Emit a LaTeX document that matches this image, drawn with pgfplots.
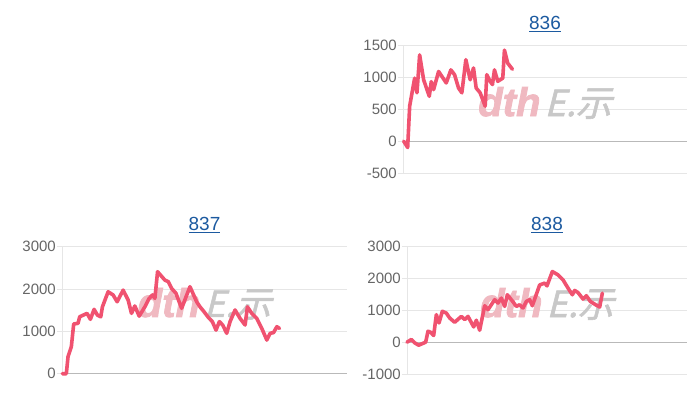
\documentclass[border=0pt]{standalone}
\usepackage{pgfplots}
\pgfplotsset{compat=1.18}
\usepackage{fontspec}
\setmainfont{Liberation Sans}
\newfontfamily\cjk[FakeSlant=0.25,FakeBold=1.5]{Noto Sans CJK JP}
\newfontfamily\wmfont[FakeBold=2]{Liberation Sans}
\definecolor{linec}{RGB}{240,82,112}
\definecolor{gridc}{RGB}{230,230,230}
\definecolor{zeroc}{RGB}{185,185,185}
\definecolor{tickc}{RGB}{102,102,102}
\definecolor{titlec}{RGB}{28,90,160}
\definecolor{wmpink}{RGB}{240,185,193}
\definecolor{wmgray}{RGB}{200,200,200}
\pgfplotsset{
  small/.style={
    scale only axis,
    axis x line=none,
    axis y line=left,
    y axis line style={gridc, line width=1pt, -},
    xtick=\empty,
    ymajorgrids,
    major grid style={gridc, line width=1pt},
    tick align=outside,
    major tick length=5pt,
    ytick style={gridc, line width=1pt},
    yticklabel style={font=\fontsize{15}{17}\selectfont, color=tickc, inner sep=1pt},
    /pgf/number format/assume math mode=true,
    /pgf/number format/1000 sep={},
    extra y ticks={0},
    extra y tick labels={},
    extra y tick style={major grid style={zeroc, line width=1pt}, tick style={zeroc, line width=1pt}},
    clip=false,
  },
  dataline/.style={linec, line width=3.6pt, line join=round, line cap=round},
}
\newcommand{\wm}{%
  \node[anchor=center] at (rel axis cs:0.5,0.55) {%
    \fontsize{40}{40}\selectfont\textcolor{wmpink}{\wmfont\bfseries\itshape dth}\hspace{4pt}\textcolor{wmgray}{\fontsize{36}{36}\selectfont\cjk E.示}};}
\newcommand{\ttl}[1]{%
  \node[anchor=base, text=titlec, inner sep=0pt] at (rel axis cs:0.5,1) [yshift=16pt] {\fontsize{19}{20}\selectfont\underline{#1}};}
\begin{document}
\begin{tikzpicture}[x=1pt,y=1pt]
\fill[white] (0,0) rectangle (700,400);
% 836
\begin{axis}[small, at={(403pt,227pt)}, anchor=south west, width=284pt, height=127.3pt,
  xmin=158, xmax=1012, ymin=-500, ymax=1500, ytick={-500,0,500,1000,1500}]
\wm
\addplot[dataline] coordinates {(160,0)(172,-100)(178,550)(193,990)(200,760)(208,1355)(220,965)(237,705)(243,935)(250,810)(265,1095)(288,915)(302,1120)(313,1045)(325,835)(335,760)(347,1280)(360,965)(370,1150)(378,835)(390,760)(405,550)(410,1045)(420,940)(427,890)(433,1120)(443,940)(458,990)(463,1430)(473,1225)(487,1130)};
\ttl{836}
\end{axis}
% 837
\begin{axis}[small, at={(62pt,26.3pt)}, anchor=south west, width=285pt, height=127pt,
  xmin=187, xmax=1040, ymin=0, ymax=3000, ytick={0,1000,2000,3000}]
\wm
\addplot[dataline] coordinates {(188,0)(200,0)(205,400)(215,640)(222,1175)(235,1190)(240,1345)(262,1425)(272,1285)(283,1520)(293,1385)(303,1345)(308,1580)(325,1935)(340,1860)(352,1700)(370,1975)(385,1740)(395,1425)(405,1600)(418,1360)(435,1580)(448,1780)(458,1860)(465,1780)(473,2410)(495,2210)(505,2175)(515,2015)(528,1900)(545,1545)(570,2055)(590,1700)(600,1580)(612,1465)(625,1330)(637,1230)(648,1030)(658,1230)(668,1150)(680,955)(690,1230)(705,1505)(720,1305)(735,1150)(742,1580)(755,1425)(770,1305)(785,1070)(800,795)(810,955)(820,970)(830,1110)(838,1070)};
\ttl{837}
\end{axis}
% 838
\begin{axis}[small, at={(407pt,26pt)}, anchor=south west, width=280pt, height=127.3pt,
  xmin=172, xmax=1012, ymin=-1000, ymax=3000, ytick={-1000,0,1000,2000,3000}]
\wm
\addplot[dataline] coordinates {(172,0)(185,85)(195,-20)(207,-95)(228,0)(235,345)(243,310)(252,210)(260,865)(268,605)(278,970)(290,915)(300,760)(315,625)(335,810)(345,710)(355,810)(372,480)(380,690)(390,375)(405,1145)(415,1020)(435,1335)(445,1230)(455,1385)(465,1125)(473,1490)(485,1335)(500,1125)(510,1175)(520,1075)(530,1280)(540,1335)(548,1145)(570,1800)(585,1855)(592,1770)(608,2220)(625,2115)(640,1960)(655,1700)(668,1490)(675,1625)(685,1560)(700,1355)(710,1460)(722,1280)(738,1175)(750,1105)(758,1540)};
\ttl{838}
\end{axis}
\end{tikzpicture}
\end{document}
